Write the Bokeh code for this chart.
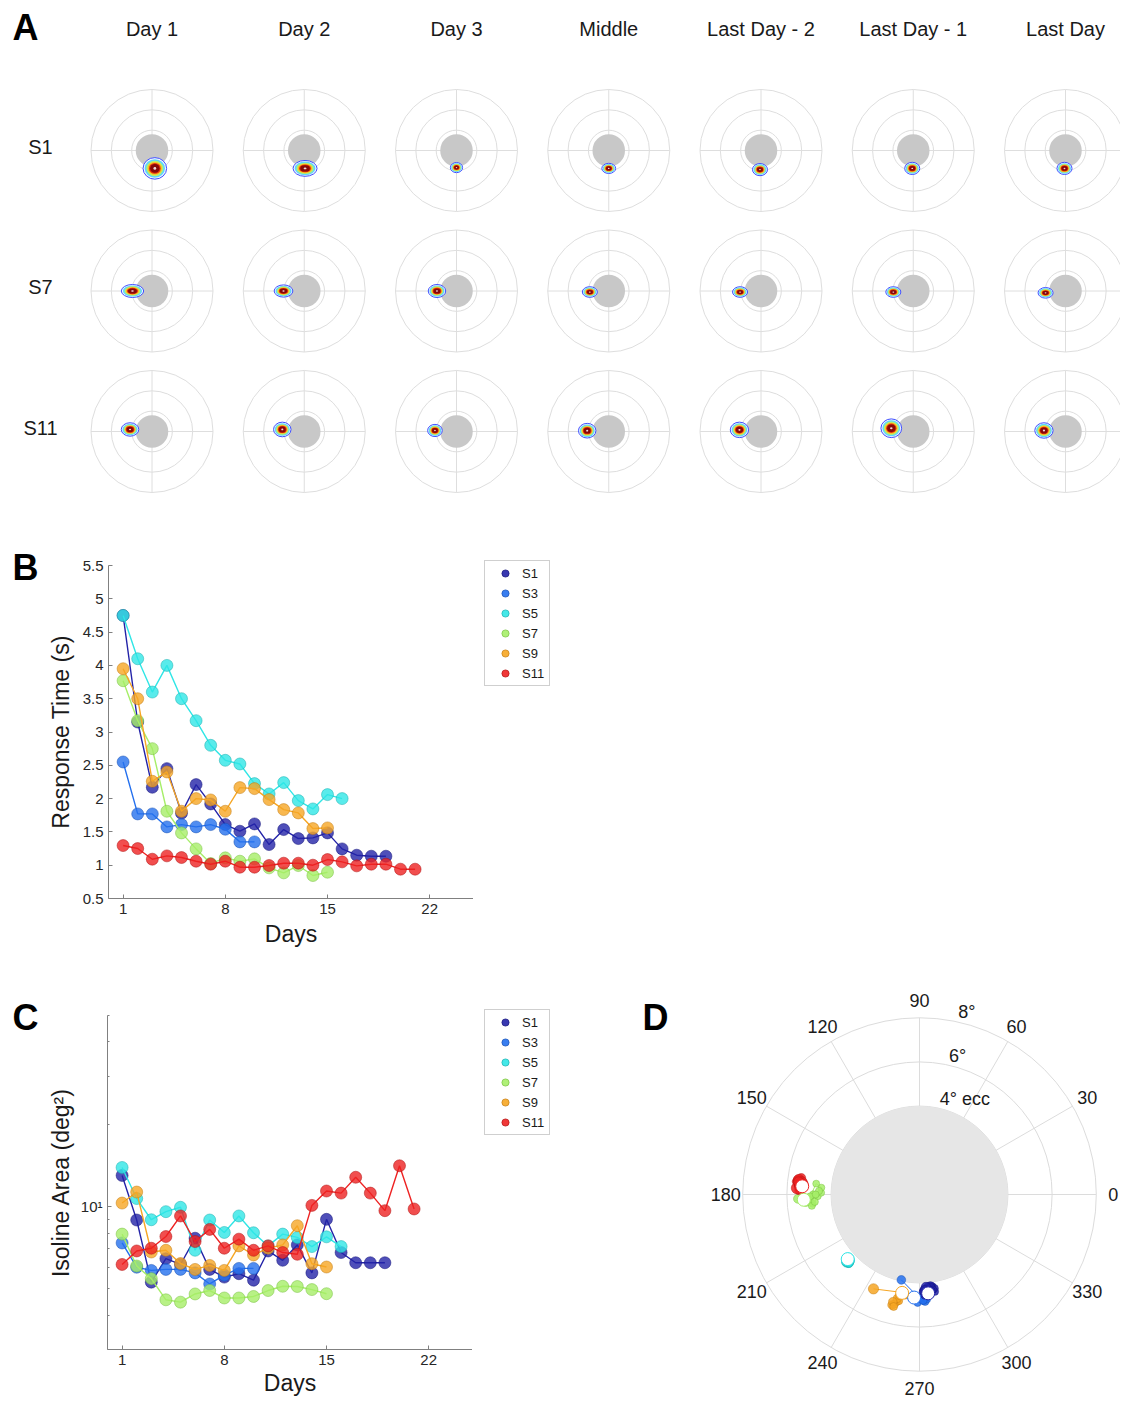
import numpy as np
from bokeh.plotting import figure
from bokeh.layouts import column, row
from bokeh.models import Range1d, FixedTicker, CustomJSTickFormatter, Legend, LegendItem
from bokeh.embed import file_html
from bokeh.resources import INLINE
from bokeh.core.properties import value

FONT = "Liberation Sans"

# ---------------- data ----------------
subjects = ["S1", "S3", "S5", "S7", "S9", "S11"]
colors = ["#2323a8", "#2470ee", "#30e6e6", "#a6ee68", "#f6a624", "#ee2222"]
edges = ["#14147a", "#1650b4", "#18b0b0", "#78c040", "#c47c10", "#b01010"]

# Panel B: response time (s) per day
s1_rt = [4.75, 3.15, 2.17, 2.45, 1.78, 2.21, 1.92, 1.61, 1.51, 1.62, 1.31, 1.535, 1.40, 1.41, 1.485, 1.245, 1.15, 1.135, 1.135]
s3_rt = [2.55, 1.77, 1.77, 1.575, 1.61, 1.575, 1.61, 1.54, 1.35, 1.35]
s5_rt = [4.75, 4.1, 3.6, 4.0, 3.5, 3.17, 2.8, 2.575, 2.52, 2.225, 2.07, 2.24, 1.97, 1.845, 2.06, 2.0]
s7_rt = [3.77, 3.17, 2.75, 1.81, 1.485, 1.245, 1.025, 1.11, 1.06, 1.095, 0.96, 0.885, 0.995, 0.845, 0.895]
s9_rt = [3.95, 3.5, 2.26, 2.4, 1.81, 2.0, 1.98, 1.81, 2.165, 2.15, 1.985, 1.835, 1.785, 1.55, 1.56]
s11_rt = [1.295, 1.25, 1.09, 1.14, 1.115, 1.06, 1.015, 1.06, 0.97, 0.97, 0.995, 1.03, 1.03, 1.0, 1.085,
          1.05, 0.99, 1.015, 1.015, 0.94, 0.94]

# Panel C: isoline area (deg^2) per day
s1_area = [13.0, 8.93, 5.29, 6.45, 6.14, 7.66, 5.89, 5.52, 5.68, 5.38, 6.88, 6.36, 7.24, 5.72, 8.98, 6.79, 6.23, 6.23, 6.23]
s3_area = [7.36, 6.0, 5.84, 5.89, 5.89, 5.72, 5.21, 5.61, 5.94, 5.94]
s5_area = [13.9, 10.7, 8.95, 9.58, 9.94, 6.92, 8.93, 8.04, 9.24, 8.02, 7.18, 7.93, 7.71, 7.14, 7.75, 7.14]
s7_area = [7.93, 6.06, 5.45, 4.56, 4.47, 4.79, 4.93, 4.63, 4.63, 4.69, 4.93, 5.11, 5.10, 4.97, 4.80]
s9_area = [10.3, 11.3, 6.82, 6.92, 6.19, 5.89, 6.09, 5.84, 7.18, 6.65, 7.04, 7.24, 8.51, 6.18, 6.01]
s11_area = [6.14, 6.88, 7.04, 7.77, 9.24, 7.45, 8.25, 7.04, 7.60, 6.92, 7.18, 6.79, 6.69, 10.1, 11.4,
            11.2, 12.8, 11.2, 9.66, 14.1, 9.80]

# Panel D: PRL polar angle (deg) and eccentricity (deg) per day
s1_ang = [276, 273, 278, 275, 279, 274, 277, 272, 276, 279, 273, 277, 275, 278, 274, 276, 273, 277, 275]
s1_ecc = [4.25, 4.35, 4.2, 4.45, 4.3, 4.5, 4.15, 4.4, 4.3, 4.45, 4.55, 4.25, 4.4, 4.35, 4.2, 4.5, 4.3, 4.4, 4.5]
s3_ang = [258, 270, 272, 268, 273, 271, 269, 274, 270, 272]
s3_ecc = [3.95, 4.7, 4.8, 4.65, 4.85, 4.6, 4.9, 4.75, 4.7, 4.8]
s5_ang = [222, 223, 224, 223, 222.5, 224, 223.5, 222.5, 223, 224, 223, 222, 223.5, 224, 223, 222.5]
s5_ecc = [4.35, 4.4, 4.45, 4.5, 4.4, 4.45, 4.35, 4.5, 4.4, 4.45, 4.5, 4.4, 4.35, 4.45, 4.4, 4.5]
s7_ang = [182, 184, 180, 185, 181, 183, 186, 179, 176, 174, 181, 184, 178, 182, 180]
s7_ecc = [5.5, 5.15, 4.8, 4.85, 4.6, 5.0, 4.9, 4.45, 4.45, 4.7, 4.95, 4.75, 4.55, 5.2, 4.7]
s9_ang = [244, 260, 258, 256, 261, 259, 257, 262, 258, 260, 256, 259, 261, 257, 260]
s9_ecc = [4.75, 4.5, 4.95, 5.15, 4.55, 4.9, 5.1, 4.6, 4.8, 4.5, 5.0, 4.65, 4.55, 5.2, 4.6]
s11_ang = [174, 176, 173, 177, 175, 172, 176, 174, 178, 175, 173, 177, 174, 176, 175, 173, 177, 174, 176, 175, 174]
s11_ecc = [5.45, 5.35, 5.55, 5.4, 5.5, 5.4, 5.3, 5.55, 5.45, 5.35, 5.5, 5.45, 5.6, 5.4, 5.3, 5.5, 5.55, 5.35, 5.45, 5.4, 5.5]
mean_ang = [275, 267, 222, 182.6, 260, 176]
mean_ecc = [4.49, 4.67, 4.37, 5.24, 4.52, 5.32]
polar_ticks = [0, 30, 60, 90, 120, 150, 180, 210, 240, 270, 300, 330]
ecc_ticks = [4, 6, 8]
ecc_labels = ["4\u00b0 ecc", "6\u00b0", "8\u00b0"]

# Panel A: contour blobs (offset x, offset y, width, height in deg)
sessions = ["Day 1", "Day 2", "Day 3", "Middle", "Last Day - 2", "Last Day - 1", "Last Day"]
rowsA = ["S1", "S7", "S11"]
a_s1_dx = [0.7, 0.2, 0.0, 0.0, -0.25, -0.25, -0.25]
a_s1_dy = [-4.4, -4.4, -4.2, -4.4, -4.7, -4.4, -4.4]
a_s1_w = [5.8, 5.9, 3.0, 3.4, 3.7, 3.7, 3.7]
a_s1_h = [5.3, 3.9, 2.5, 2.5, 3.0, 3.0, 3.0]
a_s7_dx = [-4.8, -5.1, -4.8, -4.65, -5.15, -4.9, -4.9]
a_s7_dy = [0.0, 0.0, 0.0, -0.25, -0.25, -0.25, -0.45]
a_s7_w = [5.5, 4.6, 4.3, 3.7, 3.7, 3.7, 3.7]
a_s7_h = [3.2, 3.0, 3.2, 2.6, 2.6, 2.6, 2.6]
a_s11_dx = [-5.4, -5.4, -5.3, -5.3, -5.3, -5.4, -5.3]
a_s11_dy = [0.5, 0.5, 0.25, 0.2, 0.4, 0.8, 0.25]
a_s11_w = [4.3, 4.3, 3.6, 4.3, 4.5, 5.1, 4.5]
a_s11_h = [3.3, 3.6, 3.0, 3.6, 3.8, 4.6, 3.8]


def no_align(p):
    try:
        p.frame_align = False
    except Exception:
        pass
    return p


def blank_fig(w, h, xr, yr):
    f = figure(width=w, height=h, frame_width=w, frame_height=h, x_range=xr, y_range=yr,
               x_axis_type=None, y_axis_type=None, toolbar_location=None,
               output_backend="svg", min_border=0, outline_line_color=None)
    return no_align(f)


# ---------------- Panel A ----------------
PXA = 61.0 / 15.0
col_pitch = 152.25 / PXA
row_pitch = 140.5 / PXA
W_A, H_A = 1120, 500
X0A, Y0A = 151.5, 150.0
pA = blank_fig(W_A, H_A, Range1d(-X0A / PXA, (W_A - X0A) / PXA),
               Range1d(-(H_A - Y0A) / PXA, Y0A / PXA))

cx = np.array([c * col_pitch for r in range(3) for c in range(7)])
cy = np.array([-r * row_pitch for r in range(3) for c in range(7)])
gridc = "#dedede"
for rad in [15, 10, 5]:
    pA.circle(cx, cy, radius=rad, fill_color=None, line_color=gridc, line_width=1)
pA.segment(cx - 15, cy, cx + 15, cy, line_color=gridc, line_width=1)
pA.segment(cx, cy - 15, cx, cy + 15, line_color=gridc, line_width=1)
pA.circle(cx, cy, radius=4, fill_color="#c8c8c8", line_color=None)

bdx = np.array(a_s1_dx + a_s7_dx + a_s11_dx)
bdy = np.array(a_s1_dy + a_s7_dy + a_s11_dy)
bw = np.array(a_s1_w + a_s7_w + a_s11_w)
bh = np.array(a_s1_h + a_s7_h + a_s11_h)
levels = [(1.0, "#f2f4ff", "#4050ff"), (0.86, "#5cd6ff", None), (0.72, "#b8ef6e", None),
          (0.6, "#ffbc1e", None), (0.5, "#e6320f", None), (0.4, "#860808", None), (0.12, "#f4d8d8", None)]
for sc, fc, lc in levels:
    pA.ellipse(x=cx + bdx, y=cy + bdy, width=bw * sc, height=bh * sc,
               fill_color=fc, line_color=lc, line_width=1)

pA.text(x=[c * col_pitch for c in range(7)], y=[(Y0A - 28) / PXA] * 7, text=sessions,
        text_align="center", text_baseline="middle", text_font=value(FONT),
        text_font_size="20px", text_color="#1a1a1a")
pA.text(x=[(40 - X0A) / PXA] * 3, y=[-r * row_pitch + 4 / PXA for r in range(3)], text=rowsA,
        text_align="center", text_baseline="middle", text_font=value(FONT),
        text_font_size="20px", text_color="#1a1a1a")
pA.text(x=[(25 - X0A) / PXA], y=[(Y0A - 27) / PXA], text=["A"], text_align="center",
        text_baseline="middle", text_font=value(FONT), text_font_size="36px",
        text_font_style="bold", text_color="black")


def style_axes(p):
    for ax in p.axis:
        ax.axis_line_color = "#808080"
        ax.major_tick_line_color = "#808080"
        ax.minor_tick_line_color = "#808080"
        ax.major_tick_in = 4
        ax.major_tick_out = 0
        ax.minor_tick_in = 2
        ax.minor_tick_out = 0
        ax.major_label_standoff = 5
        ax.major_label_text_font = FONT
        ax.major_label_text_font_size = "15px"
        ax.major_label_text_color = "#262626"
        ax.axis_label_text_font = FONT
        ax.axis_label_text_font_size = "23px"
        ax.axis_label_text_font_style = "normal"
        ax.axis_label_text_color = "#1a1a1a"
    p.xgrid.visible = False
    p.ygrid.visible = False


def legend_fig(w, h, loc):
    # legend-only panel: proxy glyphs sit outside the visible range
    f = blank_fig(w, h, Range1d(0, 1), Range1d(0, 1))
    rends = [f.scatter(x=[-5], y=[-5], size=12, fill_color=c, fill_alpha=0.9, line_color=e, line_alpha=0.7)
             for c, e in zip(colors, edges)]
    leg = Legend(items=[LegendItem(label=s, renderers=[r]) for s, r in zip(subjects, rends)],
                 location=loc)
    leg.border_line_color = "#a0a0a0"
    leg.border_line_width = 1
    leg.background_fill_color = "white"
    leg.background_fill_alpha = 1.0
    leg.label_text_font = FONT
    leg.label_text_font_size = "13px"
    leg.label_text_color = "#1a1a1a"
    leg.glyph_width = 34
    leg.glyph_height = 18
    leg.label_height = 18
    leg.label_width = 24
    leg.label_standoff = 0
    leg.spacing = 2
    leg.padding = 3
    leg.margin = 0
    f.add_layout(leg)
    return f


def letter_fig(h, letter, y_from_top):
    f = blank_fig(40, h, Range1d(0, 40), Range1d(0, h))
    f.text(x=[25], y=[h - y_from_top], text=[letter], text_align="center",
           text_baseline="middle", text_font=value(FONT), text_font_size="36px",
           text_font_style="bold", text_color="black")
    return f


# ---------------- Panel B ----------------
H_B = 458
pB = figure(width=433, height=H_B, frame_width=365, frame_height=333,
            x_range=Range1d(0, 25), y_range=Range1d(0.5, 5.5),
            toolbar_location=None, output_backend="svg", outline_line_color=None,
            min_border_left=68, min_border_right=0, min_border_top=65, min_border_bottom=60)
no_align(pB)
rt_all = [s1_rt, s3_rt, s5_rt, s7_rt, s9_rt, s11_rt]
for vals, col, ed in zip(rt_all, colors, edges):
    d = np.arange(1, len(vals) + 1)
    pB.line(d, vals, line_color=col, line_width=1.4)
    pB.scatter(d, vals, size=12, fill_color=col, fill_alpha=0.8,
               line_color=ed, line_alpha=0.5, line_width=1)
style_axes(pB)
pB.xaxis.ticker = FixedTicker(ticks=[1, 8, 15, 22])
pB.yaxis.ticker = FixedTicker(ticks=[0.5, 1, 1.5, 2, 2.5, 3, 3.5, 4, 4.5, 5, 5.5])
pB.yaxis.formatter = CustomJSTickFormatter(code="return tick.toString();")
pB.xaxis.axis_label = "Days"
pB.yaxis.axis_label = "Response Time (s)"
pB.xaxis.axis_label_standoff = 4
pB.yaxis.axis_label_standoff = 6
pBL = letter_fig(H_B, "B", 567 - 500)
pBG = legend_fig(127, H_B, (11, 958 - 686))

# ---------------- Panel C ----------------
H_C = 442
pC = figure(width=432, height=H_C, frame_width=365, frame_height=334,
            x_range=Range1d(0, 25), y_range=Range1d(3, 50),
            y_axis_type="log", toolbar_location=None, output_backend="svg", outline_line_color=None,
            min_border_left=67, min_border_right=0, min_border_top=57, min_border_bottom=51)
no_align(pC)
area_all = [s1_area, s3_area, s5_area, s7_area, s9_area, s11_area]
for vals, col, ed in zip(area_all, colors, edges):
    d = np.arange(1, len(vals) + 1)
    pC.line(d, vals, line_color=col, line_width=1.4)
    pC.scatter(d, vals, size=12, fill_color=col, fill_alpha=0.8,
               line_color=ed, line_alpha=0.5, line_width=1)
style_axes(pC)
pC.xaxis.ticker = FixedTicker(ticks=[1, 8, 15, 22])
pC.yaxis.ticker = FixedTicker(ticks=[10], minor_ticks=[3, 4, 5, 6, 7, 8, 9, 20, 30, 40, 50])
pC.yaxis.formatter = CustomJSTickFormatter(code="return '10\\u00b9';")
pC.xaxis.axis_label = "Days"
pC.yaxis.axis_label = "Isoline Area (deg\u00b2)"
pC.xaxis.axis_label_standoff = 2
pC.yaxis.axis_label_standoff = 4
pCL = letter_fig(H_C, "C", 1017 - 958)
pCG = legend_fig(128, H_C, (12, 1400 - 1135))

# ---------------- Panel D ----------------
PXD = 22.1
D_W, D_H = 520, H_C
cxD, cyD = 919 - 600, 1194 - 958
pD = blank_fig(D_W, D_H, Range1d(-cxD / PXD, (D_W - cxD) / PXD),
               Range1d(-(D_H - cyD) / PXD, cyD / PXD))
th = np.radians(polar_ticks)
pD.segment(0, 0, 8 * np.cos(th), 8 * np.sin(th), line_color="#dcdcdc", line_width=1)
pD.circle(x=[0, 0, 0], y=[0, 0, 0], radius=[4, 6, 8], fill_color=None, line_color="#dcdcdc", line_width=1)
pD.circle(x=[0], y=[0], radius=4, fill_color="#e6e6e6", line_color=None)
pD.text(x=8.77 * np.cos(th), y=8.77 * np.sin(th), text=[str(a) for a in polar_ticks],
        text_align="center", text_baseline="middle", text_font=value(FONT),
        text_font_size="18px", text_color="#1a1a1a")
rl = np.radians(78)
pD.text(x=[(e + 0.42) * np.cos(rl) for e in ecc_ticks], y=[(e + 0.42) * np.sin(rl) for e in ecc_ticks],
        text=ecc_labels, text_align="left", text_baseline="alphabetic", text_font=value(FONT),
        text_font_size="18px", text_color="#1a1a1a")

ang_all = [s1_ang, s3_ang, s5_ang, s7_ang, s9_ang, s11_ang]
ecc_all = [s1_ecc, s3_ecc, s5_ecc, s7_ecc, s9_ecc, s11_ecc]
order = [2, 3, 5, 4, 1, 0]
for i in order:
    a = np.radians(ang_all[i])
    e = np.array(ecc_all[i])
    x, y = e * np.cos(a), e * np.sin(a)
    pD.line(x, y, line_color=colors[i], line_width=1)
    pD.scatter(x, y, size=3.2 * np.sqrt(np.array(area_all[i])), fill_color=colors[i], fill_alpha=0.85,
               line_color=edges[i], line_alpha=0.6, line_width=0.8)
ma = np.radians(mean_ang)
me = np.array(mean_ecc)
pD.scatter(me * np.cos(ma), me * np.sin(ma), size=13, fill_color="white", line_color=colors,
           line_width=1)
pD.text(x=[(655 - 919) / PXD], y=[(1194 - 1017) / PXD], text=["D"], text_align="center",
        text_baseline="middle", text_font=value(FONT), text_font_size="36px",
        text_font_style="bold", text_color="black")

layout = column(row(pA), row(pBL, pB, pBG), row(pCL, pC, pCG, pD))
with open("out.html", "w", encoding="utf-8") as f:
    f.write(file_html(layout, INLINE))
